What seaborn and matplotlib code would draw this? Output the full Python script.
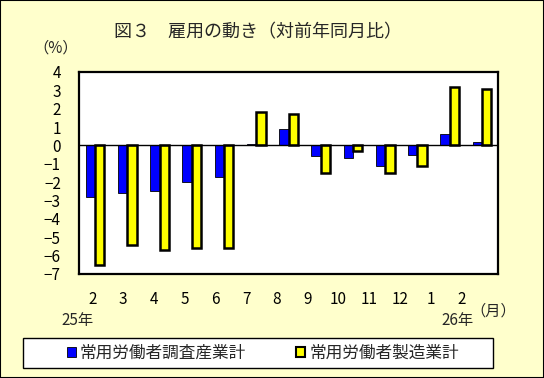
import numpy as np
import pandas as pd
import matplotlib
matplotlib.use("Agg")
import matplotlib.pyplot as plt
import matplotlib.patches as mpatches
import seaborn as sns

# data
months = ["2", "3", "4", "5", "6", "7", "8", "9", "10", "11", "12", "1", "2 "]
all_industry = [-2.8, -2.6, -2.5, -2.0, -1.7, 0.1, 0.9, -0.6, -0.7, -1.1, -0.5, 0.6, 0.2]
manufacturing = [-6.5, -5.4, -5.7, -5.6, -5.6, 1.8, 1.7, -1.5, -0.3, -1.5, -1.1, 3.2, 3.1]
series_names = ["常用労働者調査産業計", "常用労働者製造業計"]
colors = ["#0000FF", "#FFFF00"]

df = pd.DataFrame({"month": months, series_names[0]: all_industry, series_names[1]: manufacturing})
long_df = df.melt(id_vars="month", var_name="series", value_name="value")

sns.set_theme(style="white")
plt.rcParams['font.family'] = ['Noto Sans CJK JP', 'DejaVu Sans']

bg = "#FFFFCC"
fig = plt.figure(figsize=(5.44, 3.78), dpi=100, facecolor=bg)
ax = fig.add_axes([79/544, 1-274/378, (498-79)/544, (274-72)/378])

sns.barplot(data=long_df, x="month", y="value", hue="series", palette=colors,
            width=0.58, ax=ax, legend=False, saturation=1)

# blue bars thin edge, yellow bars thick edge
for bar in ax.containers[0]:
    bar.set_edgecolor("black")
    bar.set_linewidth(0.6)
for bar in ax.containers[1]:
    bar.set_edgecolor("black")
    bar.set_linewidth(1.8)

ax.axhline(0, color="black", lw=1)
ax.set_ylim(-7, 4)
ax.set_yticks(range(-7, 5))
ax.set_yticklabels([str(v).replace("-", "−") for v in range(-7, 5)])
ax.set_xlim(-0.5, 12.5)
# Excel spaced the month labels a bit tighter than the bar groups
ax.set_xticks(np.arange(len(months)) * 0.955 - 0.09)
ax.set_xticklabels([m.strip() for m in months])
ax.set_xlabel("")
ax.set_ylabel("")
ax.set_facecolor("white")
for s in ax.spines.values():
    s.set_color("black")
    s.set_linewidth(1.6)
ax.tick_params(axis="both", length=0, labelsize=11, colors="black")
ax.tick_params(axis="x", pad=12)
ax.tick_params(axis="y", pad=13)

fig.text(258/544, 1-32/378, "図３　雇用の動き（対前年同月比）", ha="center", va="center", fontsize=13)
fig.text(56/544, 1-48/378, "（%）", ha="center", va="center", fontsize=11)
fig.text(78/544, 1-320/378, "25年", ha="center", va="center", fontsize=11)
fig.text(457/544, 1-320/378, "26年", ha="center", va="center", fontsize=11)
fig.text(493/544, 1-311/378, "（月）", ha="center", va="center", fontsize=11)

handles = [mpatches.Patch(facecolor=colors[0], edgecolor="black", lw=0.6),
           mpatches.Patch(facecolor=colors[1], edgecolor="black", lw=1.5)]
leg = fig.legend(handles, series_names, loc="center", ncol=2,
                 bbox_to_anchor=(263/544, 1-353/378), fontsize=12,
                 frameon=False, handlelength=0.55, handleheight=0.55,
                 handletextpad=0.25, columnspacing=3.0)

# legend box and outer border
fig.patches.append(mpatches.Rectangle((23/544, 1-368/378), 470/544, 30/378,
                                      transform=fig.transFigure, facecolor="white",
                                      edgecolor="black", lw=1.0, zorder=0))
fig.patches.append(mpatches.Rectangle((0, 0), 1, 1, transform=fig.transFigure,
                                      fill=False, edgecolor="black", lw=1.5))

fig.savefig("out.png", dpi=100, facecolor=bg)
